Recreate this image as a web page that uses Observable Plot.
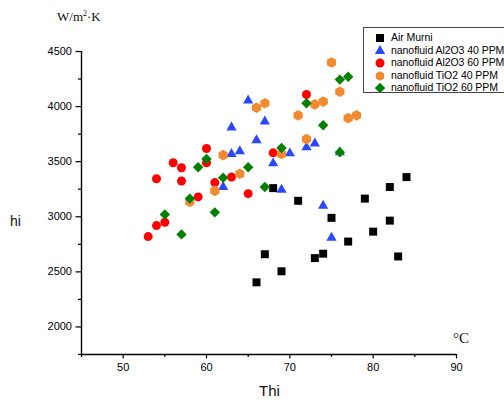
<!DOCTYPE html>
<html>
<head>
<meta charset="utf-8">
<script src="https://cdn.jsdelivr.net/npm/d3@7"></script>
<script src="https://cdn.jsdelivr.net/npm/@observablehq/plot@0.6"></script>
<style>
  html, body { margin: 0; padding: 0; background: #fff; }
  #wrap { position: relative; width: 504px; height: 401px; overflow: hidden; }
  .lbl { position: absolute; white-space: nowrap; color: #111; }
  #legend { position: absolute; left: 363px; top: 27px; width: 150px; height: 66px;
            border: 1px solid #444; background: #fff; box-sizing: border-box; }
  .lrow { position: absolute; left: 0; height: 13px; font: 10.5px "Liberation Sans", Arial, sans-serif; color: #000; white-space: nowrap; }
  .lrow svg { position: absolute; left: 8px; top: 0; }
  .lrow span { position: absolute; left: 27px; top: 0; line-height: 13px; letter-spacing: -0.05px; }
</style>
</head>
<body>
<div id="wrap"></div>
<script>
// ---- data ----
const series = ["Air Murni", "nanofluid Al2O3 40 PPM", "nanofluid Al2O3 60 PPM", "nanofluid TiO2 40 PPM", "nanofluid TiO2 60 PPM"];
const colors = ["#000000", "#2a48ff", "#ff0000", "#f28a30", "#008000"];
const symbols = ["square", "triangle", "circle", "hexagon", "diamond2"];

const airX = [68, 71, 75, 67, 74, 73, 69, 66, 77, 80, 82, 79, 82, 84, 83];
const airY = [3260, 3145, 2990, 2660, 2665, 2625, 2505, 2405, 2775, 2865, 2965, 3165, 3270, 3360, 2640];
const al40X = [65, 67, 63, 66, 63, 64, 68, 70, 72, 73, 76, 69, 62, 74, 75];
const al40Y = [4055, 3865, 3810, 3695, 3570, 3595, 3485, 3575, 3630, 3665, 3585, 3245, 3270, 3100, 2810];
const al60X = [60, 56, 57, 54, 57, 60, 61, 63, 59, 55, 54, 53, 65, 68, 72];
const al60Y = [3620, 3490, 3445, 3345, 3325, 3490, 3310, 3360, 3180, 2950, 2920, 2820, 3210, 3580, 4110];
const ti40X = [66, 67, 62, 69, 64, 61, 58, 75, 76, 73, 74, 71, 77, 78, 72];
const ti40Y = [3990, 4030, 3560, 3570, 3390, 3235, 3135, 4400, 4135, 4020, 4045, 3920, 3895, 3920, 3705];
const ti60X = [69, 60, 59, 65, 62, 67, 58, 61, 55, 57, 76, 77, 72, 74, 76];
const ti60Y = [3625, 3525, 3450, 3450, 3355, 3270, 3165, 3040, 3020, 2840, 4245, 4270, 4030, 3830, 3585];

const xDomain = [45, 90];
const yDomain = [1750, 4500];
const xMajor = [50, 60, 70, 80, 90];
const xMinor = [45, 55, 65, 75, 85];
const yMajor = [2000, 2500, 3000, 3500, 4000, 4500];
const yMinor = [1750, 2250, 2750, 3250, 3750, 4250];

const xs = [airX, al40X, al60X, ti40X, ti60X];
const ys = [airY, al40Y, al60Y, ti40Y, ti60Y];
const radii = [4.5, 3.8, 4.5, 4.6, 4.7];

const tables = xs.map((xa, i) => xa.map((x, j) => ({x, y: ys[i][j]})));

const dotMarks = tables.map((t, i) => Plot.dot(t, {x: "x", y: "y", symbol: () => symbols[i], fill: colors[i], r: radii[i]}));

const chart = Plot.plot({
  width: 504, height: 401,
  marginLeft: 81, marginRight: 48, marginTop: 51, marginBottom: 47,
  style: {fontFamily: "'Liberation Sans', Arial, sans-serif", fontSize: "11px", color: "#000", background: "#fff"},
  x: {domain: xDomain},
  y: {domain: yDomain},
  symbol: {type: "identity"},
  marks: [
    Plot.axisX({ticks: xMinor, tickSize: 3, tickFormat: () => "", label: null, strokeWidth: 1.2}),
    Plot.axisX({ticks: xMajor, tickSize: 4.5, tickPadding: 4, tickFormat: d3.format("d"), label: null, strokeWidth: 1.2}),
    Plot.axisY({ticks: yMinor, tickSize: 3, tickFormat: () => "", label: null, strokeWidth: 1.2}),
    Plot.axisY({ticks: yMajor, tickSize: 5.5, tickPadding: 4, tickFormat: d3.format("d"), label: null, strokeWidth: 1.2}),
    Plot.ruleX([xDomain[0]], {y1: yDomain[0], y2: yDomain[1], strokeWidth: 1.4}),
    Plot.ruleY([yDomain[0]], {x1: xDomain[0], x2: xDomain[1], strokeWidth: 1.4}),
    ...dotMarks
  ]
});

const wrap = document.getElementById("wrap");
wrap.appendChild(chart);

function addLabel(text, left, top, font) {
  const d = document.createElement("div");
  d.className = "lbl";
  d.style.left = left + "px";
  d.style.top = top + "px";
  d.style.font = font;
  d.innerHTML = text;
  wrap.appendChild(d);
  return d;
}
addLabel("W/m<sup style='font-size:8px;vertical-align:5px'>2</sup>·K", 57, 9, "13px 'Liberation Serif', 'Times New Roman', serif");
addLabel("°C", 453, 330, "15px 'Liberation Serif', 'Times New Roman', serif");
addLabel("hi", 10, 213, "14px 'Liberation Sans', Arial, sans-serif");
addLabel("Thi", 259, 382, "15px 'Liberation Sans', Arial, sans-serif");

// legend
const legend = document.createElement("div");
legend.id = "legend";
wrap.appendChild(legend);
series.forEach((name, i) => {
  const row = document.createElement("div");
  row.className = "lrow";
  row.style.top = (3 + i * 12.5) + "px";
  const svg = d3.create("svg").attr("width", 16).attr("height", 13);
  const symMap = {square: d3.symbolSquare, triangle: d3.symbolTriangle, circle: d3.symbolCircle, diamond2: d3.symbolDiamond2};
  let path;
  const size = Math.PI * radii[i] * radii[i];
  if (symbols[i] === "hexagon") {
    const r = radii[i] * 1.05;
    const pts = d3.range(6).map(k => [r * Math.sin(k * Math.PI / 3), -r * Math.cos(k * Math.PI / 3)]);
    path = "M" + pts.map(p => p.join(",")).join("L") + "Z";
  } else {
    path = d3.symbol(symMap[symbols[i]], size)();
  }
  svg.append("path").attr("d", path).attr("fill", colors[i]).attr("transform", "translate(8,7)");
  row.appendChild(svg.node());
  const sp = document.createElement("span");
  sp.textContent = name;
  row.appendChild(sp);
  legend.appendChild(row);
});
</script>
</body>
</html>
